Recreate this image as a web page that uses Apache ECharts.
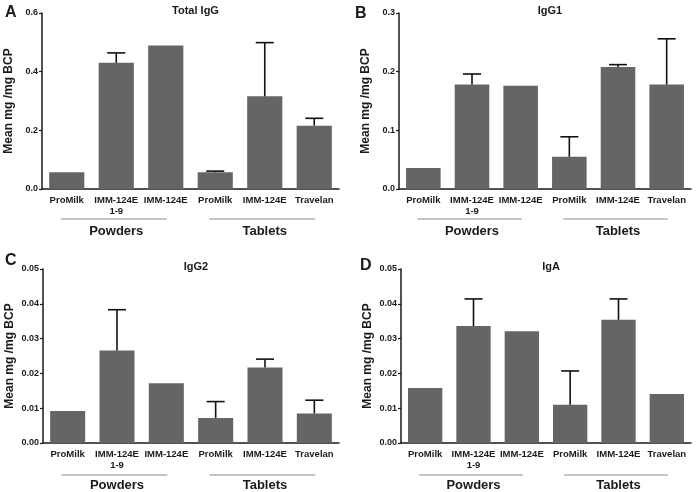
<!DOCTYPE html>
<html>
<head>
<meta charset="utf-8">
<script src="https://cdn.jsdelivr.net/npm/echarts@6/dist/echarts.min.js"></script>
<style>html,body{margin:0;padding:0;background:#fff}#c{width:696px;height:492px}</style>
</head>
<body>
<div id="c"></div>
<script>
var categories = ['ProMilk', 'IMM-124E\n1-9', 'IMM-124E', 'ProMilk', 'IMM-124E', 'Travelan'];
var groups = ['Powders', 'Tablets'];
var panelTitles = ['Total IgG', 'IgG1', 'IgG2', 'IgA'];
var panelLetters = ['A', 'B', 'C', 'D'];

var totalIgG = [0.057, 0.430, 0.489, 0.057, 0.316, 0.216];
var totalIgGErr = [0, 0.034, 0, 0.004, 0.183, 0.025];
var igG1 = [0.036, 0.178, 0.176, 0.055, 0.208, 0.178];
var igG1Err = [0, 0.018, 0, 0.034, 0.004, 0.078];
var igG2 = [0.0092, 0.0266, 0.0172, 0.0072, 0.0217, 0.0085];
var igG2Err = [0, 0.0117, 0, 0.0047, 0.0024, 0.0038];
var igA = [0.0158, 0.0336, 0.0321, 0.0110, 0.0354, 0.0141];
var igAErr = [0, 0.0078, 0, 0.0097, 0.0060, 0];

var yMax = [0.6, 0.3, 0.05, 0.05];
var yInterval = [0.2, 0.1, 0.01, 0.01];
var yDecimals = [1, 1, 2, 2];

var means = [totalIgG, igG1, igG2, igA];
var errs = [totalIgGErr, igG1Err, igG2Err, igAErr];

var FONT = '"Liberation Sans", Arial, Helvetica, sans-serif';
var TXT = '#1a1a1a';
var grids = [
  {left: 42, top: 13, width: 297, height: 176},
  {left: 399, top: 13, width: 292, height: 176},
  {left: 43, top: 269, width: 296, height: 176},
  {left: 401, top: 269, width: 290, height: 176}
];
var letterPos = [[0, 0], [350, 1], [0, 248], [355, 253]];

var chart = echarts.init(document.getElementById('c'), null, {renderer: 'canvas'});

var option = {
  backgroundColor: '#fff',
  animation: false,
  textStyle: {fontFamily: FONT},
  title: [],
  grid: grids,
  xAxis: [],
  yAxis: [],
  series: []
};

for (var i = 0; i < 4; i++) {
  var g = grids[i];
  option.title.push({
    text: panelTitles[i], left: g.left + g.width / 2, top: (i < 2 ? 0 : 256),
    textAlign: 'center',
    textStyle: {fontFamily: FONT, fontSize: 11, fontWeight: 'bold', color: TXT}
  });
  option.title.push({
    text: panelLetters[i], left: letterPos[i][0], top: letterPos[i][1],
    textStyle: {fontFamily: FONT, fontSize: 16, fontWeight: 'bold', color: TXT}
  });
  option.xAxis.push({
    type: 'category', gridIndex: i, data: categories,
    axisLine: {lineStyle: {color: TXT, width: 1.5}},
    axisTick: {alignWithLabel: true, length: 3, lineStyle: {color: TXT, width: 1.2}},
    axisLabel: {interval: 0, margin: 6, fontFamily: FONT, fontSize: 9.5, fontWeight: 'bold', color: TXT, lineHeight: 11}
  });
  option.xAxis.push({
    type: 'category', gridIndex: i, data: groups, position: 'bottom',
    axisLine: {show: false}, axisTick: {show: false},
    axisLabel: {interval: 0, margin: 36, fontFamily: FONT, fontSize: 13, fontWeight: 'bold', color: TXT}
  });
  (function (dec) {
    option.yAxis.push({
      type: 'value', gridIndex: i, min: 0, max: yMax[i], interval: yInterval[i],
      name: 'Mean mg /mg BCP', nameLocation: 'middle', nameGap: 27,
      nameTextStyle: {fontFamily: FONT, fontSize: 12, fontWeight: 'bold', color: TXT},
      splitLine: {show: false},
      axisLine: {show: true, lineStyle: {color: TXT, width: 1.5}},
      axisTick: {show: true, length: 3, lineStyle: {color: TXT, width: 1.2}},
      axisLabel: {margin: 4, fontFamily: FONT, fontSize: 9, fontWeight: 'bold', color: TXT,
        formatter: function (v) { return v.toFixed(dec); }}
    });
  })(yDecimals[i]);
  option.series.push({
    type: 'bar', xAxisIndex: i * 2, yAxisIndex: i, data: means[i],
    barCategoryGap: '29%', itemStyle: {color: '#656565'}
  });
  var ebData = means[i].map(function (m, k) { return [k, m, errs[i][k]]; });
  option.series.push({
    type: 'custom', xAxisIndex: i * 2, yAxisIndex: i, data: ebData, z: 3,
    renderItem: function (params, api) {
      var e = api.value(2);
      if (!e) return null;
      var x = api.value(0), m = api.value(1);
      var p0 = api.coord([x, m]);
      var p1 = api.coord([x, m + e]);
      var half = 9;
      var st = {stroke: '#111', lineWidth: 1.6};
      return {type: 'group', children: [
        {type: 'line', shape: {x1: p0[0], y1: p0[1], x2: p1[0], y2: p1[1]}, style: st},
        {type: 'line', shape: {x1: p1[0] - half, y1: p1[1], x2: p1[0] + half, y2: p1[1]}, style: st}
      ]};
    }
  });
}

chart.setOption(option);

// group underline bars under category groups
var gfx = [];
for (var j = 0; j < 4; j++) {
  var gr = grids[j];
  var yLine = gr.top + gr.height + 30;
  [[0, 2], [3, 5]].forEach(function (rg) {
    var xa = chart.convertToPixel({xAxisIndex: j * 2}, rg[0]);
    var xb = chart.convertToPixel({xAxisIndex: j * 2}, rg[1]);
    gfx.push({type: 'line', shape: {x1: xa - 6, y1: yLine, x2: xb + 1, y2: yLine},
      style: {stroke: '#8a8a8a', lineWidth: 1.2}, silent: true});
  });
}
chart.setOption({graphic: gfx});
</script>
</body>
</html>
